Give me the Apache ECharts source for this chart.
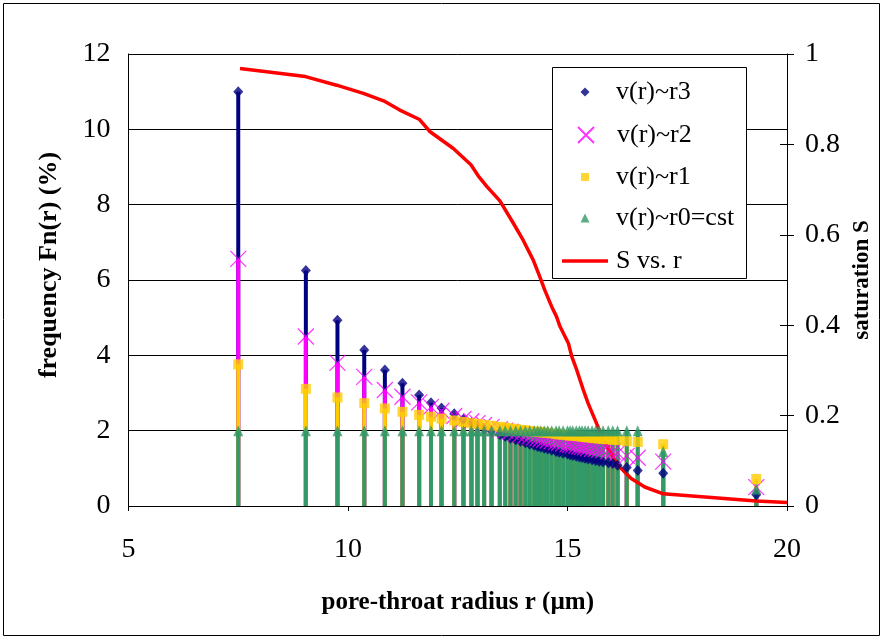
<!DOCTYPE html>
<html>
<head>
<meta charset="utf-8">
<script src="https://cdn.jsdelivr.net/npm/echarts@6/dist/echarts.min.js"></script>
<style>
  html, body { margin: 0; padding: 0; background: #ffffff; }
  #chart { width: 883px; height: 639px; }
</style>
</head>
<body>
<div id="chart"></div>
<script>
// Pore-throat radius of each class (µm)
const radius = [
  7.50, 9.04, 9.76, 10.37, 10.84, 11.24, 11.62, 11.89, 12.13, 12.42,
  12.63, 12.81, 12.95, 13.10, 13.27, 13.46, 13.58, 13.70, 13.82, 13.93,
  14.04, 14.14, 14.24, 14.32, 14.39, 14.47, 14.55, 14.64, 14.74, 14.81,
  14.90, 15.00, 15.06, 15.12, 15.20, 15.27, 15.33, 15.40, 15.47, 15.56,
  15.64, 15.72, 15.81, 15.93, 16.03, 16.14, 16.35, 16.60, 17.18, 19.30
];

// Frequency Fn(r) in % for v(r) ~ r^3
const freqR3 = [
  11.00, 6.25, 4.93, 4.14, 3.61, 3.26, 2.95, 2.74, 2.60, 2.45,
  2.30, 2.21, 2.14, 2.06, 1.99, 1.90, 1.85, 1.80, 1.76, 1.72,
  1.68, 1.64, 1.61, 1.58, 1.56, 1.53, 1.51, 1.48, 1.45, 1.43,
  1.40, 1.38, 1.36, 1.34, 1.32, 1.30, 1.29, 1.27, 1.25, 1.23,
  1.21, 1.19, 1.17, 1.15, 1.13, 1.08, 1.02, 0.94, 0.87, 0.30
];

// Frequency Fn(r) in % for v(r) ~ r^2
const freqR2 = [
  6.56, 4.50, 3.80, 3.43, 3.08, 2.90, 2.75, 2.63, 2.53, 2.39,
  2.31, 2.25, 2.20, 2.15, 2.10, 2.04, 2.00, 1.97, 1.93, 1.90,
  1.87, 1.85, 1.82, 1.80, 1.78, 1.76, 1.74, 1.72, 1.70, 1.68,
  1.66, 1.64, 1.63, 1.61, 1.60, 1.58, 1.57, 1.56, 1.54, 1.52,
  1.51, 1.49, 1.48, 1.45, 1.44, 1.41, 1.33, 1.28, 1.18, 0.50
];

// Frequency Fn(r) in % for v(r) ~ r^1
const freqR1 = [
  3.76, 3.11, 2.88, 2.73, 2.59, 2.50, 2.42, 2.37, 2.32, 2.27,
  2.23, 2.20, 2.18, 2.15, 2.13, 2.10, 2.08, 2.06, 2.04, 2.02,
  2.01, 1.99, 1.98, 1.97, 1.96, 1.95, 1.94, 1.93, 1.91, 1.90,
  1.89, 1.88, 1.87, 1.87, 1.86, 1.85, 1.84, 1.83, 1.82, 1.81,
  1.80, 1.79, 1.78, 1.77, 1.76, 1.75, 1.72, 1.70, 1.64, 0.72
];

// Frequency Fn(r) in % for v(r) ~ r^0 (constant volume)
const freqR0 = [
  2, 2, 2, 2, 2, 2, 2, 2, 2, 2,
  2, 2, 2, 2, 2, 2, 2, 2, 2, 2,
  2, 2, 2, 2, 2, 2, 2, 2, 2, 2,
  2, 2, 2, 2, 2, 2, 2, 2, 2, 2,
  2, 2, 2, 2, 2, 2, 2, 2, 1.45, 0.45
];

// Saturation curve S vs. r
const satRadius = [
  7.54, 9.03, 9.74, 10.35, 10.84, 11.18, 11.63, 11.87, 12.40, 12.80,
  12.97, 13.17, 13.46, 13.77, 13.99, 14.22, 14.37, 14.48, 14.64, 14.75,
  14.83, 15.02, 15.10, 15.21, 15.36, 15.47, 15.63, 15.82, 16.14, 16.45,
  16.76, 17.18, 19.30, 20.00
];
const satValue = [
  0.968, 0.950, 0.931, 0.913, 0.895, 0.876, 0.855, 0.828, 0.791, 0.755,
  0.730, 0.706, 0.675, 0.625, 0.588, 0.544, 0.507, 0.478, 0.441, 0.419,
  0.397, 0.360, 0.330, 0.301, 0.257, 0.227, 0.190, 0.146, 0.091, 0.061,
  0.042, 0.027, 0.011, 0.008
];

// Axis ticks
const xTicks = { min: 5, max: 20, step: 5 };
const yLeftTicks = { min: 0, max: 12, step: 2 };
const yRightTicks = { min: 0, max: 1, step: 0.2 };

const seriesNames = ['v(r)~r3', 'v(r)~r2', 'v(r)~r1', 'v(r)~r0=cst', 'S vs. r'];

const FONT = '"Liberation Serif", "Times New Roman", serif';
const colors = {
  r3: '#000080',
  r2: '#ff00ff',
  r1: '#ffcc00',
  r0: '#339966',
  s: '#ff0000'
};

function pairs(xs, ys) {
  return xs.map((x, i) => [x, ys[i]]);
}

// Vertical stem from the x axis up to each value
function stems(id, values, color) {
  return {
    type: 'custom',
    id: id,
    name: id,
    yAxisIndex: 0,
    z: 2,
    silent: true,
    data: pairs(radius, values),
    encode: { x: 0, y: 1 },
    renderItem: function (params, api) {
      const base = api.coord([api.value(0), 0]);
      const top = api.coord([api.value(0), api.value(1)]);
      return {
        type: 'line',
        shape: { x1: base[0], y1: base[1], x2: top[0], y2: top[1] },
        style: { stroke: color, lineWidth: 4 }
      };
    }
  };
}

function markers(name, values, symbol, size, itemStyle) {
  return {
    type: 'scatter',
    name: name,
    yAxisIndex: 0,
    z: 5,
    symbol: symbol,
    symbolSize: size,
    itemStyle: itemStyle,
    data: pairs(radius, values),
    emphasis: { disabled: true }
  };
}

const crossPath = 'path://M0,0L10,10M10,0L0,10';

const series = [
  stems('stem-r3', freqR3, colors.r3),
  stems('stem-r2', freqR2, colors.r2),
  stems('stem-r1', freqR1, colors.r1),
  stems('stem-r0', freqR0, colors.r0),
  markers(seriesNames[0], freqR3, 'diamond', [10, 11], { color: colors.r3 }),
  markers(seriesNames[1], freqR2, crossPath, 16, { color: colors.r2, borderColor: colors.r2, borderWidth: 1.2 }),
  markers(seriesNames[2], freqR1, 'rect', 10, { color: colors.r1 }),
  markers(seriesNames[3], freqR0, 'triangle', [10, 11], { color: colors.r0 }),
  {
    type: 'line',
    name: seriesNames[4],
    yAxisIndex: 1,
    z: 4,
    symbol: 'none',
    smooth: false,
    lineStyle: { color: colors.s, width: 3.5 },
    itemStyle: { color: colors.s },
    data: pairs(satRadius, satValue),
    emphasis: { disabled: true }
  }
];

// One legend block per entry so each marker keeps its own size.
// Icons are centred on x = 585 and every label starts at x = 616.
const legendSpec = [
  { center: 92, icon: 'diamond', w: 9, h: 9 },
  { center: 135, icon: crossPath, w: 16, h: 16 },
  { center: 177, icon: 'rect', w: 8, h: 8 },
  { center: 218, icon: 'triangle', w: 9, h: 9 },
  { center: 261, icon: 'rect', w: 46, h: 3.5 }
];
const legends = seriesNames.map((name, i) => {
  const s = legendSpec[i];
  const left = 585 - s.w / 2;
  const textStart = left + s.w + 5;
  return {
    show: true,
    data: [{ name: name, icon: s.icon }],
    orient: 'vertical',
    left: left,
    top: s.center - 14,
    padding: 0,
    itemWidth: s.w,
    itemHeight: s.h,
    selectedMode: false,
    textStyle: {
      fontFamily: FONT, fontSize: 26, color: '#000', lineHeight: 28,
      padding: [0, 0, 0, 616 - textStart]
    }
  };
});

const tickFont = { fontFamily: FONT, fontSize: 28, color: '#000' };
const titleFont = { fontFamily: FONT, fontWeight: 'bold', color: '#000' };

const chart = echarts.init(document.getElementById('chart'), null, { renderer: 'canvas' });
chart.setOption({
  animation: false,
  backgroundColor: '#ffffff',
  grid: { left: 128.5, right: 96, top: 54, bottom: 133, containLabel: false },
  legend: legends,
  xAxis: {
    type: 'value',
    min: xTicks.min,
    max: xTicks.max,
    interval: xTicks.step,
    name: 'pore-throat radius r (µm)',
    nameLocation: 'middle',
    nameGap: 84,
    nameTextStyle: Object.assign({ fontSize: 25 }, titleFont),
    axisLine: { show: true, onZero: false, lineStyle: { color: '#000', width: 1 } },
    axisTick: { show: true, inside: false, length: 5, lineStyle: { color: '#000' } },
    axisLabel: Object.assign({ margin: 30 }, tickFont),
    splitLine: { show: false }
  },
  yAxis: [
    {
      type: 'value',
      min: yLeftTicks.min,
      max: yLeftTicks.max,
      interval: yLeftTicks.step,
      position: 'left',
      name: 'frequency Fn(r) (%)',
      nameLocation: 'middle',
      nameGap: 66,
      nameRotate: 90,
      nameTextStyle: Object.assign({ fontSize: 26, padding: [0, 0, 0, 30] }, titleFont),
      axisLine: { show: true, lineStyle: { color: '#000', width: 1 } },
      axisTick: { show: false },
      axisLabel: Object.assign({ margin: 18 }, tickFont),
      splitLine: { show: true, lineStyle: { color: '#000', width: 1 } }
    },
    {
      type: 'value',
      min: yRightTicks.min,
      max: yRightTicks.max,
      interval: yRightTicks.step,
      position: 'right',
      name: 'saturation S',
      nameLocation: 'middle',
      nameGap: 62,
      nameRotate: 90,
      nameTextStyle: Object.assign({ fontSize: 23 }, titleFont),
      axisLine: { show: true, lineStyle: { color: '#000', width: 1 } },
      axisTick: { show: true, inside: false, length: 7, lineStyle: { color: '#000' } },
      axisLabel: Object.assign({ margin: 18 }, tickFont),
      splitLine: { show: false }
    },
    {
      // inner half of the crossing ticks on the saturation axis
      type: 'value',
      min: yRightTicks.min,
      max: yRightTicks.max,
      interval: yRightTicks.step,
      position: 'right',
      axisLine: { show: false },
      axisTick: { show: true, inside: true, length: 7, lineStyle: { color: '#000' } },
      axisLabel: { show: false },
      splitLine: { show: false }
    }
  ],
  graphic: [
    {
      type: 'rect',
      z: 3,
      shape: { x: 3.5, y: 3.5, width: 876, height: 632 },
      style: { fill: 'none', stroke: '#000', lineWidth: 1 }
    },
    {
      type: 'rect',
      z: 3,
      shape: { x: 552.5, y: 67.5, width: 194, height: 211 },
      style: { fill: '#ffffff', stroke: '#000', lineWidth: 1 }
    }
  ],
  series: series
});
</script>
</body>
</html>
